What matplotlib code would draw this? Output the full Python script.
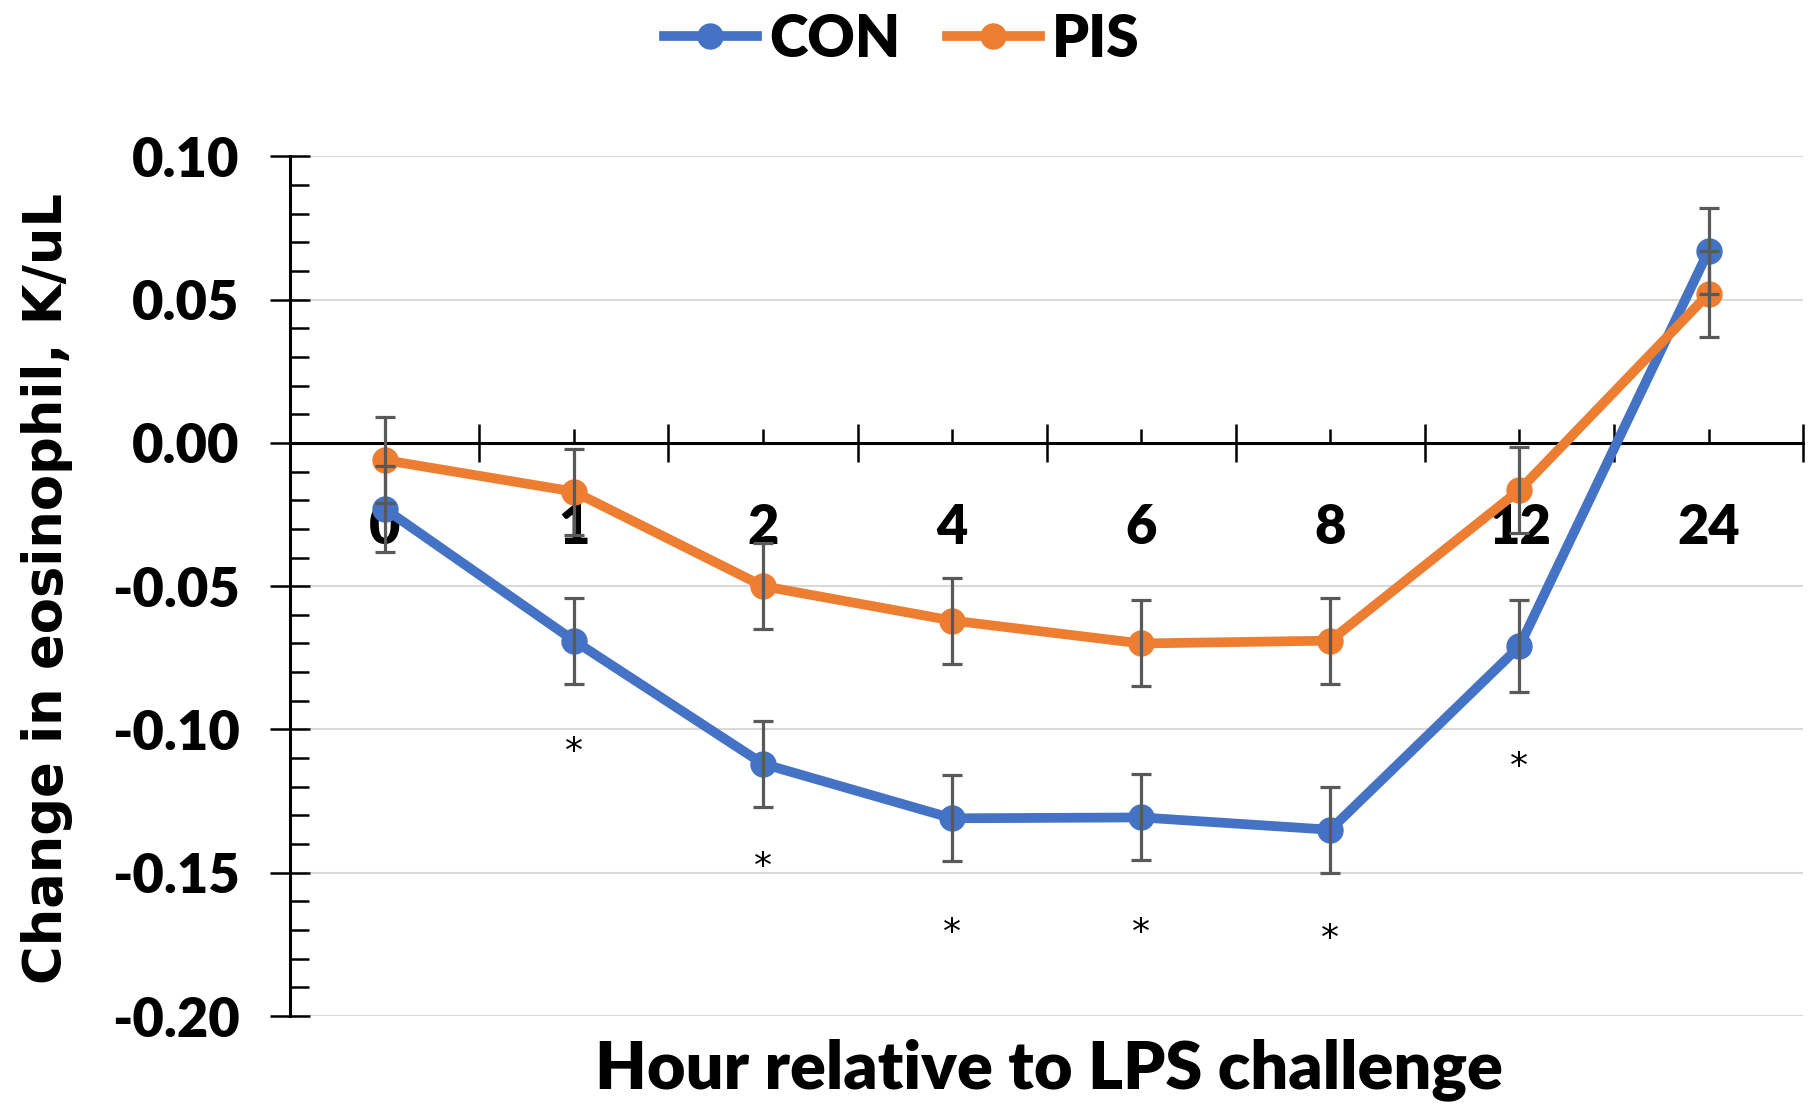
import matplotlib
matplotlib.use("Agg")
import matplotlib.pyplot as plt
import numpy as np

# data
hours = ["0", "1", "2", "4", "6", "8", "12", "24"]
con = [-0.023, -0.069, -0.112, -0.131, -0.1307, -0.135, -0.071, 0.067]
pis = [-0.006, -0.017, -0.050, -0.062, -0.070, -0.069, -0.0165, 0.052]
con_se = [0.015, 0.015, 0.015, 0.015, 0.015, 0.015, 0.016, 0.015]
pis_se = [0.015, 0.015, 0.015, 0.015, 0.015, 0.015, 0.015, 0.015]
# positions of significance stars (category, y value)
star_idx = [1, 2, 3, 4, 5, 6]
star_y = [-0.108, -0.148, -0.171, -0.171, -0.173, -0.113]
yticks = [-0.20, -0.15, -0.10, -0.05, 0.00, 0.05, 0.10]
ytick_labels = ["-0.20", "-0.15", "-0.10", "-0.05", "0.00", "0.05", "0.10"]

blue = "#4472C4"
orange = "#ED7D31"
plt.rcParams['font.family'] = ['Lato', 'DejaVu Sans']

fig = plt.figure(figsize=(18.14, 11.18), dpi=100)
ax = fig.add_axes([0.160, 0.0912, 0.834, 0.769])

x = np.arange(len(hours))
for vals, se, col, lab in [(con, con_se, blue, "CON"), (pis, pis_se, orange, "PIS")]:
    ax.plot(x, vals, color=col, lw=7, marker='o', ms=18, label=lab, zorder=3)
    ax.errorbar(x, vals, yerr=se, fmt='none', ecolor='#595959', elinewidth=2.3,
                capsize=7, capthick=2.3, zorder=4)

for i, yv in zip(star_idx, star_y):
    ax.text(i, yv, "*", ha='center', va='center', fontsize=26, family='DejaVu Sans')

ax.set_xlim(-0.5, len(hours) - 0.5)
ax.set_ylim(-0.20, 0.10)

# spines
ax.spines['top'].set_visible(False)
ax.spines['right'].set_visible(False)
ax.spines['bottom'].set_position(('data', 0))
ax.spines['bottom'].set_linewidth(2.2)
ax.spines['left'].set_linewidth(2.2)

# gridlines
for yv in yticks:
    if yv != 0:
        ax.axhline(yv, color='#D9D9D9', lw=1.5, zorder=0)

# x ticks: boundaries major, centers minor with labels
ax.set_xticks(np.arange(-0.5, len(hours), 1.0))
ax.set_xticklabels([])
ax.set_xticks(x, minor=True)
ax.set_xticklabels(hours, minor=True, fontsize=39, fontweight='heavy')
ax.tick_params(axis='x', which='major', direction='inout', length=28, width=1.8)
ax.tick_params(axis='x', which='minor', direction='in', length=10, width=1.8, pad=43)

# y ticks
ax.set_yticks(yticks)
ax.set_yticklabels(ytick_labels, fontsize=39, fontweight='heavy')
ax.set_yticks(np.arange(-0.20, 0.101, 0.01), minor=True)
ax.tick_params(axis='y', which='major', direction='inout', length=29, width=1.8, pad=22)
ax.tick_params(axis='y', which='minor', direction='in', length=14, width=1.8)

fig.text(0.578, 0.043, "Hour relative to LPS challenge", ha='center', va='center',
         fontsize=48, fontweight='heavy')
fig.text(0.026, 0.474, "Change in eosinophil, K/uL", ha='center', va='center',
         rotation=90, fontsize=38, fontweight='bold', family='DejaVu Sans')

fig.legend(loc='center', bbox_to_anchor=(0.497, 0.965), ncol=2, frameon=False,
           prop={'size': 42, 'weight': 'heavy'}, handlelength=1.6, columnspacing=0.8,
           handletextpad=0.2)

fig.savefig("out.png", dpi=100)
